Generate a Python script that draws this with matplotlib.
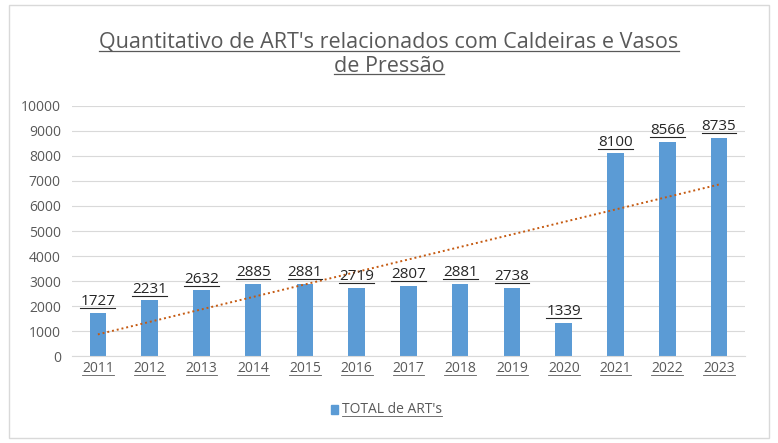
import matplotlib
matplotlib.use("Agg")
import matplotlib.pyplot as plt
from matplotlib.lines import Line2D
import numpy as np

years = ["2011","2012","2013","2014","2015","2016","2017","2018","2019","2020","2021","2022","2023"]
values = [1727, 2231, 2632, 2885, 2881, 2719, 2807, 2881, 2738, 1339, 8100, 8566, 8735]
yticks = list(range(0, 10001, 1000))
title = "Quantitativo de ART's relacionados com Caldeiras e Vasos\nde Pressão"
legend_label = "TOTAL de ART's"

plt.rcParams["font.family"] = "Open Sans"
fig = plt.figure(figsize=(7.78, 4.43), dpi=100)
fig.patch.set_facecolor("white")
fig.add_artist(plt.Rectangle((0.012, 0.012), 0.976, 0.976, transform=fig.transFigure,
                             fill=False, edgecolor="#d9d9d9", lw=1))
ax = fig.add_axes([0.0925, 0.196, 0.865, 0.565])
x = np.arange(len(years))
bars = ax.bar(x, values, width=0.32, color="#5B9BD5", zorder=2)
coef = np.polyfit(x, values, 1)
ax.plot(x, np.polyval(coef, x), color="#C55A11", ls=(0, (1, 1.5)), lw=1.4, zorder=3)
ax.set_ylim(0, 10000)
ax.set_xlim(-0.5, len(years) - 0.5)
ax.set_yticks(yticks)
ax.set_xticks(x)
ax.set_xticklabels(years)
ax.tick_params(length=0, labelsize=10, colors="#595959")
ax.tick_params(axis="y", pad=8)
ax.grid(axis="y", color="#d9d9d9", lw=0.8, zorder=0)
for s in ["top", "right", "left"]:
    ax.spines[s].set_visible(False)
ax.spines["bottom"].set_color("#d9d9d9")

texts = []
for xi, v in zip(x, values):
    texts.append(ax.text(xi, v + 150, str(v), ha="center", va="bottom", fontsize=11, color="#262626"))
tl = fig.text(0.5, 0.93, title, ha="center", va="top", fontsize=15.5, color="#595959", linespacing=1.25)
xt = ax.get_xticklabels()

fig.canvas.draw()
r = fig.canvas.get_renderer()
def underline(t, color, lw=0.8):
    bb = t.get_window_extent(r)
    fig.add_artist(Line2D([bb.x0, bb.x1], [bb.y0 + 1, bb.y0 + 1], transform=None, color=color, lw=lw))
for t in texts:
    underline(t, "#262626")
for t in xt:
    underline(t, "#595959", 0.6)
# title underline per line
bb = tl.get_window_extent(r)
lines = title.split("\n")
from matplotlib.text import Text
h = bb.height / 2
for i, ln in enumerate(lines):
    tmp = fig.text(0, 0, ln, fontsize=15.5)
    w = tmp.get_window_extent(r).width
    tmp.remove()
    cx = (bb.x0 + bb.x1) / 2
    yb = bb.y1 - h * (i + 1) + 3
    fig.add_artist(Line2D([cx - w / 2, cx + w / 2], [yb, yb], transform=None, color="#595959", lw=0.9))

# legend
lx, ly = 0.44, 0.075
fig.add_artist(plt.Rectangle((lx - 0.014, ly - 0.01), 0.009, 0.02, transform=fig.transFigure, color="#5B9BD5"))
lt = fig.text(lx, ly, legend_label, ha="left", va="center", fontsize=10, color="#595959")
fig.canvas.draw()
underline(lt, "#595959", 0.6)
fig.savefig("out.png", dpi=100)
